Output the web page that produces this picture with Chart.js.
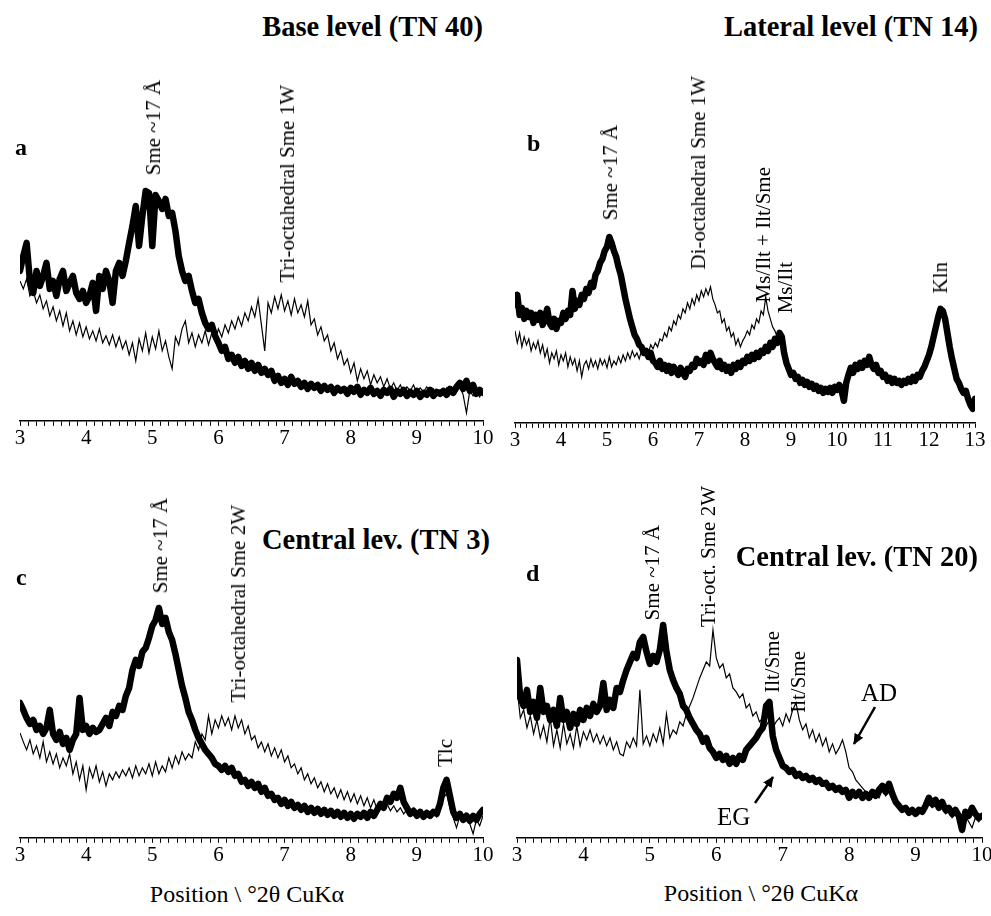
<!DOCTYPE html>
<html>
<head>
<meta charset="utf-8">
<script src="https://cdn.jsdelivr.net/npm/chart.js@4.4.1/dist/chart.umd.min.js"></script>
<style>
  html, body { margin: 0; padding: 0; background: #fff; overflow: hidden; }
  #page { position: relative; width: 991px; height: 916px; overflow: hidden;
          font-family: 'Liberation Serif', 'Times New Roman', serif; color: #000; }
  .panel { position: absolute; }
  .title { position: absolute; font-weight: bold; font-size: 28.5px; line-height: 28px; white-space: nowrap; }
  .letter { position: absolute; font-weight: bold; font-size: 24px; line-height: 24px; }
  .peak { position: absolute; font-size: 21px; line-height: 21px; width: 21px;
          writing-mode: vertical-rl; transform: rotate(180deg); white-space: nowrap; }
  .xtitle { position: absolute; font-size: 24px; line-height: 24px; white-space: nowrap; transform: translateX(-50%); }
  .note { position: absolute; font-size: 25px; line-height: 25px; }
</style>
</head>
<body>
<div id="page">
  <div class="panel" style="left:6px;top:150px;width:491px;height:301px"><canvas id="chart_a"></canvas></div>
  <div class="panel" style="left:501px;top:150px;width:488px;height:303px"><canvas id="chart_b"></canvas></div>
  <div class="panel" style="left:6px;top:570px;width:491px;height:298px"><canvas id="chart_c"></canvas></div>
  <div class="panel" style="left:503px;top:570px;width:493px;height:298px"><canvas id="chart_d"></canvas></div>

  <div class="title" style="right:508px;top:13px">Base level (TN 40)</div>
  <div class="title" style="right:13px;top:13px">Lateral level (TN 14)</div>
  <div class="title" style="right:501px;top:526px">Central lev. (TN 3)</div>
  <div class="title" style="right:13px;top:543px">Central lev. (TN 20)</div>

  <div class="letter" style="left:15px;top:135px">a</div>
  <div class="letter" style="left:527px;top:131px">b</div>
  <div class="letter" style="left:16px;top:565px">c</div>
  <div class="letter" style="left:526px;top:561px">d</div>

  <div class="peak" style="left:143px;bottom:741px">Sme ~17 Å</div>
  <div class="peak" style="left:277px;bottom:633px">Tri-octahedral Sme 1W</div>
  <div class="peak" style="left:600px;bottom:696px">Sme ~17 Å</div>
  <div class="peak" style="left:688px;bottom:646px">Di-octahedral Sme 1W</div>
  <div class="peak" style="left:753px;bottom:613px">Ms/Ilt + Ilt/Sme</div>
  <div class="peak" style="left:775px;bottom:603px">Ms/Ilt</div>
  <div class="peak" style="left:930px;bottom:623px">Kln</div>
  <div class="peak" style="left:150px;bottom:323px">Sme ~17 Å</div>
  <div class="peak" style="left:228px;bottom:213px">Tri-octahedral Sme 2W</div>
  <div class="peak" style="left:435px;bottom:149px">Tlc</div>
  <div class="peak" style="left:642px;bottom:296px">Sme ~17 Å</div>
  <div class="peak" style="left:698px;bottom:289px">Tri-oct. Sme 2W</div>
  <div class="peak" style="left:762px;bottom:223px">Ilt/Sme</div>
  <div class="peak" style="left:788px;bottom:203px">Ilt/Sme</div>

  <div class="note" style="left:861px;top:680px">AD</div>
  <div class="note" style="left:717px;top:804px">EG</div>

  <div class="xtitle" style="left:247px;top:882px">Position \ °2θ CuKα</div>
  <div class="xtitle" style="left:761px;top:881px">Position \ °2θ CuKα</div>

  <svg width="991" height="916" style="position:absolute;left:0;top:0;pointer-events:none">
    <defs>
      <marker id="head" markerUnits="userSpaceOnUse" markerWidth="12" markerHeight="12" refX="10" refY="6" orient="auto">
        <path d="M0,1 L11,6 L0,11 z" fill="#000"></path>
      </marker>
    </defs>
    <line x1="875" y1="707" x2="854" y2="744" stroke="#000" stroke-width="2.5" marker-end="url(#head)"></line>
    <line x1="755" y1="803" x2="773" y2="777" stroke="#000" stroke-width="2.5" marker-end="url(#head)"></line>
  </svg>
</div>

<script>
// intensities (height above the x axis, arbitrary units)
// every series starts at 3 °2θ and is sampled every 0.05 °2θ
const start = 3;
const step = 0.05;

// a: Base level (TN 40)
const thickA = [
  150,165,178,140,128,150,135,145,158,132,
  140,125,142,150,130,138,145,128,122,130,
  118,125,138,110,145,132,150,140,118,150,
  158,145,160,178,195,215,175,205,230,228,
  175,226,220,212,222,205,208,190,165,150,
  140,145,130,118,122,108,98,92,96,85,
  78,70,74,62,66,58,64,55,60,52,
  58,50,56,48,52,46,50,40,45,38,
  42,36,44,37,40,34,38,32,37,33,
  36,30,35,31,34,28,33,30,32,27,
  33,29,34,26,31,28,33,27,30,25,
  31,28,32,24,30,27,31,25,29,26,
  30,24,28,26,31,25,29,27,30,26,
  32,28,34,38,32,40,30,36,27,31,
  28
];
const thinA = [
  140,132,142,125,130,118,126,112,120,105,
  114,100,110,95,108,90,100,86,98,84,
  94,82,90,80,92,78,85,76,86,74,
  84,72,80,66,78,60,82,70,88,68,
  84,72,90,70,80,64,52,84,76,92,
  100,78,88,74,86,78,90,76,88,80,
  92,84,96,88,100,92,104,95,108,100,
  114,104,122,96,70,118,108,124,112,126,
  110,120,106,122,108,116,104,120,96,102,
  86,94,80,86,70,78,62,70,56,62,
  48,58,40,52,42,50,36,46,38,44,
  34,42,32,38,30,36,28,34,30,36,
  27,33,29,34,28,32,26,31,28,33,
  27,32,29,34,26,8,30,25,32,24,
  30
];

// b: Lateral level (TN 14)
const thickB = [
  118,128,108,115,104,112,106,110,100,108,
  103,110,98,105,114,100,96,104,94,102,
  100,110,104,112,108,132,114,122,118,128,
  124,134,130,140,136,148,152,160,164,172,
  176,186,180,172,166,156,148,136,124,114,
  104,96,88,84,78,76,70,72,66,70,
  62,60,56,62,54,58,52,57,50,56,
  52,48,55,50,46,54,52,58,56,64,
  60,62,58,68,62,70,64,60,56,62,
  54,58,52,56,50,58,54,60,56,62,
  60,66,62,68,64,70,66,72,70,76,
  72,80,76,84,80,90,86,70,60,54,
  48,50,44,46,40,43,38,41,36,39,
  34,37,32,35,30,34,31,35,30,36,
  33,38,32,22,40,48,55,50,58,54,
  60,55,62,58,66,58,54,58,50,52,
  46,48,42,45,40,44,40,42,38,42,
  40,44,41,46,42,48,46,52,56,62,
  68,76,86,96,106,114,112,104,90,76,
  64,54,44,40,34,30,32,24,18,14,
  24
];
const thinB = [
  92,80,90,76,86,78,84,72,80,74,
  82,70,78,66,74,60,70,64,72,58,
  68,62,70,56,66,58,64,52,62,46,
  58,62,54,64,56,62,54,64,58,63,
  55,66,56,62,58,66,60,68,62,70,
  64,72,66,70,64,72,68,74,70,78,
  74,80,76,84,82,90,86,96,92,102,
  98,108,104,114,110,120,114,124,118,128,
  122,132,126,134,128,136,124,118,110,112,
  100,104,92,96,86,90,78,84,76,82,
  86,92,88,98,94,104,100,112,108,126,
  112,104,96,92,86,82,76,70,62,56,
  50
];

// c: Central lev. (TN 3)
const thickC = [
  135,128,120,114,118,108,112,104,110,128,
  104,98,106,94,100,88,98,104,140,108,
  112,104,110,106,108,114,120,112,126,122,
  132,128,142,150,168,178,172,186,190,200,
  212,218,230,214,220,206,198,184,168,152,
  140,126,118,108,100,94,88,84,80,74,
  72,68,72,66,70,62,64,56,58,52,
  56,50,54,46,50,42,44,38,40,34,
  38,32,36,30,33,28,32,26,30,25,
  29,24,28,23,27,22,26,21,25,20,
  24,19,24,21,25,20,26,22,28,34,
  30,40,36,44,40,50,36,30,24,27,
  22,26,21,25,22,26,24,34,50,58,
  42,26,20,24,18,22,17,22,18,24,
  28
];
const thinC = [
  105,96,88,98,84,92,80,96,76,86,
  74,84,70,80,72,84,64,76,58,72,
  48,70,60,72,56,66,52,64,58,66,
  60,68,62,70,60,72,62,70,64,74,
  62,76,64,72,66,80,70,82,74,86,
  78,84,80,96,88,104,98,122,104,118,
  110,122,112,120,108,122,110,118,104,112,
  98,102,90,96,86,94,82,90,80,88,
  76,82,70,74,64,70,58,64,54,60,
  50,56,46,54,44,50,40,48,38,46,
  36,44,34,42,32,40,30,38,28,36,
  30,34,27,32,26,30,24,28,22,27,
  21,26,20,25,22,26,21,30,40,44,
  30,20,10,22,16,21,14,4,18,12,
  22
];

// d: Central lev. (TN 20)
const thickD = [
  178,140,132,148,126,136,120,150,126,132,
  118,128,112,140,118,126,110,124,114,128,
  118,130,122,134,126,132,155,128,138,130,
  150,146,158,168,176,184,180,196,201,186,
  174,182,176,188,213,186,168,158,150,144,
  132,128,120,114,108,104,96,100,90,86,
  80,84,78,82,74,80,74,82,78,88,
  92,96,100,106,110,132,136,102,88,80,
  72,70,66,68,62,64,60,62,58,60,
  56,58,54,55,50,52,48,50,46,48,
  40,46,42,46,40,44,40,46,42,48,
  52,46,54,44,36,32,28,30,25,28,
  24,28,26,32,40,34,38,30,36,28,
  30,24,28,22,8,26,22,30,24,20,
  22
];
const thinD = [
  150,120,128,110,122,104,118,100,112,96,
  120,92,108,90,114,94,104,90,112,92,
  106,98,108,96,104,94,102,92,100,88,
  96,84,82,96,90,100,92,148,94,102,
  92,104,96,110,94,124,100,108,104,116,
  112,124,132,140,150,160,168,176,172,208,
  180,170,174,160,164,150,146,140,144,130,
  134,122,126,116,120,112,118,110,116,120,
  112,124,116,128,135,118,108,114,100,108,
  96,104,92,100,86,94,84,90,98,86,
  70,66,58,54,50,46,44,42,44,40,
  48,42,46,38,34,30,28,26,24,26,
  22,24,26,30,34,30,32,28,30,24,
  26,20,24,18,6,22,16,10,20,16,
  20
];

const toPoints = (values) => values.map((y, i) => ({ x: +(start + i * step).toFixed(2), y }));

function createPanel({ id, xMax, yMax, thick, thin }) {
  const elt = document.getElementById(id);
  new Chart(elt, {
    type: 'line',
    data: {
      datasets: [
        {
          label: 'EG',
          data: toPoints(thick),
          borderColor: '#000',
          borderWidth: 6.5,
          borderJoinStyle: 'round',
          borderCapStyle: 'round',
          pointRadius: 0,
          tension: 0
        },
        {
          label: 'AD',
          data: toPoints(thin),
          borderColor: '#000',
          borderWidth: 1.2,
          pointRadius: 0,
          tension: 0
        }
      ]
    },
    options: {
      responsive: true,
      maintainAspectRatio: false,
      animation: false,
      layout: { padding: { left: 14, right: 14, top: 0, bottom: 0 } },
      plugins: { legend: { display: false }, tooltip: { enabled: false } },
      scales: {
        x: {
          type: 'linear',
          min: 3,
          max: xMax,
          border: { display: true, color: '#000', width: 1.5 },
          grid: { display: true, drawOnChartArea: false, drawTicks: true, tickLength: 5, color: '#000', lineWidth: 1 },
          ticks: {
            stepSize: 0.125,
            autoSkip: false,
            maxRotation: 0,
            padding: 0,
            color: '#000',
            font: { family: 'Liberation Serif', size: 21 },
            callback: (v) => (Math.abs(v - Math.round(v)) < 1e-6 ? Math.round(v) : '')
          }
        },
        y: { display: false, min: 0, max: yMax }
      }
    }
  });
}

createPanel({ id: 'chart_a', xMax: 10, yMax: 271, thick: thickA, thin: thinA });
createPanel({ id: 'chart_b', xMax: 13, yMax: 273, thick: thickB, thin: thinB });
createPanel({ id: 'chart_c', xMax: 10, yMax: 268, thick: thickC, thin: thinC });
createPanel({ id: 'chart_d', xMax: 10, yMax: 268, thick: thickD, thin: thinD });
</script>
</body>
</html>
